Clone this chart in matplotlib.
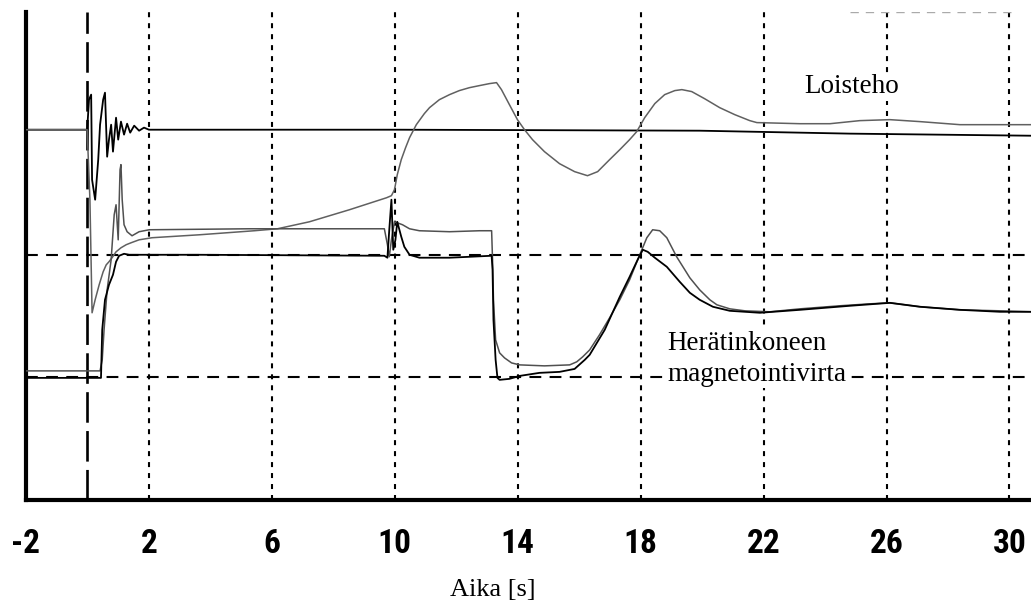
import matplotlib
matplotlib.use("Agg")
import matplotlib.pyplot as plt
from matplotlib import font_manager
import numpy as np

plt.rcParams['lines.scale_dashes'] = False

# ---------------- data ----------------
xticks = [-2, 2, 6, 10, 14, 18, 22, 26, 30]
xtick_labels = ["-2", "2", "6", "10", "14", "18", "22", "26", "30"]

# Loisteho, reference trace (black, flat after the disturbance)
q_ref_t = [-2.00, -0.01, 0.05, 0.12, 0.15, 0.25, 0.35, 0.41, 0.51, 0.57, 0.64, 0.70,
           0.77, 0.83, 0.93, 1.00, 1.09, 1.19, 1.29, 1.39, 1.52, 1.68, 1.84, 2.00,
           10.15, 19.92, 24.81, 30.70]
q_ref = [3.020, 3.020, 3.265, 3.306, 2.612, 2.449, 2.776, 3.061, 3.265, 3.322, 2.800, 2.939,
         3.061, 2.841, 3.118, 2.939, 3.086, 2.980, 3.069, 2.996, 3.053, 3.012, 3.037, 3.020,
         3.020, 3.012, 2.988, 2.971]

# Loisteho, measured trace (grey, large swing after t = 10 s)
q_meas_t = [-2.00, -0.01, 0.08, 0.15, 0.25, 0.38, 0.51, 0.61, 0.70, 0.80,
            0.93, 1.09, 1.26, 1.42, 1.68, 2.10, 3.64, 5.43, 6.18, 7.22,
            8.52, 9.73, 9.89, 9.99, 10.08, 10.21, 10.35, 10.48, 10.70, 10.96,
            11.13, 11.45, 11.78, 12.10, 12.43, 12.76, 13.08, 13.31, 13.47, 13.73,
            13.99, 14.22, 14.48, 14.87, 15.36, 15.85, 16.27, 16.60, 16.99, 17.32,
            17.64, 17.87, 18.13, 18.46, 18.78, 19.11, 19.34, 19.66, 20.08, 20.57,
            21.06, 21.55, 21.78, 23.18, 24.16, 25.13, 26.11, 27.09, 28.39, 30.70]
q_meas = [3.020, 3.020, 2.449, 1.527, 1.633, 1.755, 1.861, 1.918, 1.943, 1.976,
          2.024, 2.057, 2.082, 2.098, 2.122, 2.139, 2.163, 2.196, 2.212, 2.269,
          2.367, 2.465, 2.482, 2.531, 2.653, 2.776, 2.873, 2.955, 3.061, 3.151,
          3.200, 3.265, 3.306, 3.339, 3.363, 3.380, 3.396, 3.404, 3.347, 3.224,
          3.102, 3.020, 2.939, 2.841, 2.743, 2.678, 2.645, 2.678, 2.776, 2.857,
          2.939, 3.004, 3.118, 3.233, 3.306, 3.339, 3.347, 3.331, 3.273, 3.200,
          3.143, 3.094, 3.078, 3.069, 3.069, 3.094, 3.102, 3.086, 3.061, 3.061]

# Herätinkoneen magnetointivirta, measured trace (grey)
i_meas_t = [-2.00, 0.41, 0.48, 0.54, 0.64, 0.77, 0.87, 0.93, 1.00, 1.06,
            1.09, 1.13, 1.19, 1.29, 1.45, 1.68, 2.01, 5.26, 9.66, 9.76,
            9.82, 9.89, 9.99, 10.25, 10.48, 10.80, 11.78, 12.76, 13.15, 13.18,
            13.21, 13.28, 13.41, 13.57, 13.80, 14.06, 14.87, 15.69, 15.92, 16.11,
            16.34, 16.66, 16.99, 17.32, 17.64, 17.97, 18.20, 18.39, 18.62, 18.85,
            19.17, 19.60, 19.92, 20.25, 20.48, 20.90, 21.39, 22.20, 23.18, 24.48,
            25.46, 26.11, 27.09, 28.39, 29.69, 30.70]
i_meas = [1.053, 1.053, 1.143, 1.388, 1.714, 1.959, 2.327, 2.408, 2.122, 2.694,
          2.735, 2.449, 2.245, 2.188, 2.155, 2.188, 2.204, 2.212, 2.212, 2.082,
          1.984, 2.122, 2.269, 2.245, 2.212, 2.196, 2.188, 2.196, 2.196, 1.959,
          1.633, 1.306, 1.200, 1.159, 1.118, 1.102, 1.094, 1.102, 1.127, 1.167,
          1.224, 1.347, 1.486, 1.633, 1.796, 2.000, 2.139, 2.204, 2.196, 2.139,
          1.984, 1.812, 1.714, 1.633, 1.592, 1.559, 1.543, 1.535, 1.559, 1.584,
          1.600, 1.608, 1.576, 1.551, 1.543, 1.535]

# Herätinkoneen magnetointivirta, simulated trace (black)
i_sim_t = [-2.00, 0.44, 0.48, 0.57, 0.70, 0.83, 0.93, 1.03, 1.19, 1.36,
           3.64, 9.66, 9.76, 9.82, 9.89, 9.95, 10.02, 10.08, 10.21, 10.31,
           10.48, 10.80, 11.78, 13.15, 13.18, 13.21, 13.28, 13.34, 13.41, 13.73,
           14.06, 14.71, 15.36, 15.85, 16.18, 16.34, 16.83, 17.32, 17.64, 17.90,
           18.07, 18.23, 18.46, 18.85, 19.27, 19.60, 19.92, 20.35, 20.90, 21.88,
           23.18, 24.81, 26.11, 27.09, 28.39, 29.69, 30.70]
i_sim = [0.996, 0.996, 1.388, 1.633, 1.755, 1.837, 1.943, 1.992, 2.008, 2.000,
         2.000, 1.992, 1.976, 2.204, 2.449, 2.041, 2.122, 2.269, 2.147, 2.065,
         2.000, 1.976, 1.976, 1.992, 1.878, 1.469, 1.143, 0.996, 0.980, 0.988,
         1.012, 1.037, 1.045, 1.069, 1.143, 1.184, 1.388, 1.657, 1.820, 1.959,
         2.041, 2.024, 1.976, 1.902, 1.780, 1.690, 1.633, 1.576, 1.543, 1.527,
         1.551, 1.584, 1.608, 1.576, 1.551, 1.535, 1.535]

grid_y = [1, 2]
event_t = 0

# pick a narrow font for the tick labels if one is available
names = {f.name for f in font_manager.fontManager.ttflist}
narrow = None
for cand in ['Liberation Sans Narrow', 'DejaVu Sans Condensed', 'Roboto Condensed',
             'Open Sans Condensed']:
    if cand in names:
        narrow = cand
        break
cond = [f for f in font_manager.fontManager.ttflist
        if f.name == 'DejaVu Sans' and 'ondensed' in str(f.stretch) + f.fname]

# ---------------- figure ----------------
W, H = 1031, 608
fig = plt.figure(figsize=(W / 100, H / 100), dpi=100)
ax = fig.add_axes([26 / W, (H - 500) / H, 1 - 26 / W, (500 - 12) / H])
ax.set_xlim(-2, 30.7)
ax.set_ylim(0, 3.98)

# grid
for gx in xticks[1:]:
    ax.axvline(gx, color='black', lw=1.5, linestyle=(0, (3.6, 4.3)), zorder=1)
for gy in grid_y:
    ax.axhline(gy, color='black', lw=1.5, linestyle=(0, (8.5, 6.0)), zorder=1)
ax.axhline(3.98, xmin=0.82, xmax=0.98, color='#aaaaaa', lw=1.0,
           linestyle=(0, (6, 5)), zorder=1)
ax.axvline(event_t, color='black', lw=1.9, linestyle=(0, (22, 6)), zorder=1)

# traces
ax.plot(q_ref_t, q_ref, color='black', lw=1.3, zorder=3)
ax.plot(q_meas_t, q_meas, color='#606060', lw=1.1, zorder=3)
ax.plot(i_meas_t, i_meas, color='#505050', lw=1.1, zorder=3)
ax.plot(i_sim_t, i_sim, color='black', lw=1.3, zorder=3)

# spines / ticks
for s in ['top', 'right']:
    ax.spines[s].set_visible(False)
ax.spines['left'].set_linewidth(3.0)
ax.spines['bottom'].set_linewidth(3.0)
ax.set_yticks([])
ax.set_xticks(xticks)
if narrow is not None:
    ax.set_xticklabels(xtick_labels, family=[narrow, 'DejaVu Sans'],
                       fontweight='bold', fontsize=24)
elif cond:
    ax.set_xticklabels(xtick_labels, family=['DejaVu Sans'], fontstretch='condensed',
                       fontweight='bold', fontsize=20)
else:
    ax.set_xticklabels(xtick_labels, family=['Liberation Sans', 'DejaVu Sans'],
                       fontweight='bold', fontsize=21)
ax.tick_params(axis='x', length=0, pad=20)

# annotations (white background hides the grid behind the words, as in the scan)
box = dict(facecolor='white', edgecolor='none', pad=1.0)
ax.text(24.87, 3.37, "Loisteho", family='Liberation Serif', fontsize=19.5,
        ha='center', va='center', bbox=box, zorder=4)
ax.text(18.88, 1.15, "Herätinkoneen\nmagnetointivirta", family='Liberation Serif',
        fontsize=19.5, ha='left', va='center', linespacing=1.3, bbox=box, zorder=4)
fig.text(493 / W, 1 - 590 / H, "Aika [s]", family='Liberation Serif', fontsize=19,
         ha='center', va='center')

fig.savefig("out.png", dpi=100)
